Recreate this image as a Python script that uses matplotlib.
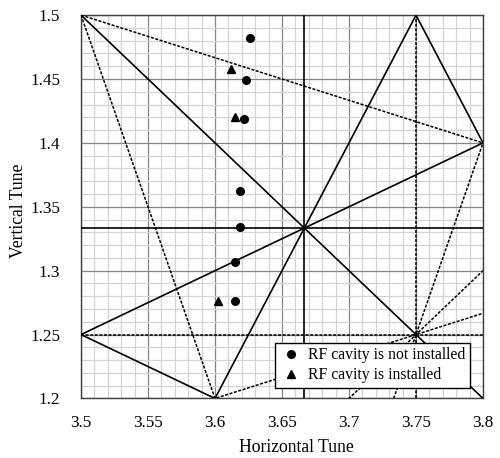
import matplotlib
matplotlib.use("Agg")
import matplotlib.pyplot as plt
import numpy as np

plt.rcParams['font.family'] = ['Liberation Serif', 'DejaVu Serif']

# Data: tune measurements
no_rf_x = [3.626, 3.623, 3.622, 3.619, 3.619, 3.615, 3.615]
no_rf_y = [1.482, 1.449, 1.419, 1.3625, 1.334, 1.3065, 1.276]
rf_x = [3.612, 3.615, 3.602]
rf_y = [1.458, 1.420, 1.276]

# Resonance lines a*nx + b*ny = c
solid_lines = [(1, 1, 5), (2, -1, 6), (2, 1, 9), (1, -2, 1), (1, 2, 6)]
dashed_lines = [(3, 1, 12), (1, 3, 8), (3, -1, 10), (1, -1, 2.5), (1, -3, 0)]
solid_vert = [11 / 3]
solid_horz = [4 / 3]
dashed_vert = [3.75]
dashed_horz = [1.25]

xticks = [3.5, 3.55, 3.6, 3.65, 3.7, 3.75, 3.8]
xticklabels = ["3.5", "3.55", "3.6", "3.65", "3.7", "3.75", "3.8"]
yticks = [1.2, 1.25, 1.3, 1.35, 1.4, 1.45, 1.5]
yticklabels = ["1.2", "1.25", "1.3", "1.35", "1.4", "1.45", "1.5"]

fig = plt.figure(figsize=(5.0, 4.58), dpi=100)
ax = fig.add_axes([0.162, 0.13, 0.804, 0.837])
ax.set_xlim(3.5, 3.8)
ax.set_ylim(1.2, 1.5)

ax.set_xticks(xticks)
ax.set_xticklabels(xticklabels)
ax.set_yticks(yticks)
ax.set_yticklabels(yticklabels)
ax.set_xticks(np.arange(3.5, 3.8001, 0.01), minor=True)
ax.set_yticks(np.arange(1.2, 1.5001, 0.01), minor=True)
ax.grid(which='minor', color='#d4d4d4', linewidth=0.9)
ax.grid(which='major', color='#868686', linewidth=0.9)
ax.set_axisbelow(True)
ax.tick_params(which='both', length=0)
ax.tick_params(axis='x', pad=12, labelsize=12.3)
ax.tick_params(axis='y', pad=15, labelsize=12.3)

xs = np.linspace(3.5, 3.8, 301)
for a, b, c in solid_lines:
    ax.plot(xs, (c - a * xs) / b, color='black', lw=1.2, zorder=3)
for a, b, c in dashed_lines:
    ax.plot(xs, (c - a * xs) / b, color='black', lw=1.1, dashes=(2, 1), zorder=3)
for v in solid_vert:
    ax.axvline(v, color='black', lw=1.2, zorder=3)
for v in solid_horz:
    ax.axhline(v, color='black', lw=1.2, zorder=3)
for v in dashed_vert:
    ax.axvline(v, color='black', lw=1.1, dashes=(2, 1), zorder=3)
for v in dashed_horz:
    ax.axhline(v, color='black', lw=1.1, dashes=(2, 1), zorder=3)

ax.plot(no_rf_x, no_rf_y, 'o', color='black', markersize=5.5, linestyle='none',
        label='RF cavity is not installed', zorder=5)
ax.plot(rf_x, rf_y, '^', color='black', markersize=6, linestyle='none',
        label='RF cavity is installed', zorder=5)

for s in ax.spines.values():
    s.set_color('#404040')
    s.set_linewidth(1.0)

leg = ax.legend(loc='lower right', bbox_to_anchor=(0.968, 0.027), borderaxespad=0,
                fontsize=11.3, frameon=True, fancybox=False, framealpha=1,
                edgecolor='black', handletextpad=0.4, handlelength=1.4,
                borderpad=0.3, labelspacing=0.25)
leg.get_frame().set_linewidth(1.0)
leg.set_zorder(10)

ax.set_xlabel('Horizontal Tune', fontsize=12.7)
ax.set_ylabel('Vertical Tune', fontsize=12.7)
ax.xaxis.set_label_coords(0.537, -0.105)
ax.yaxis.set_label_coords(-0.134, 0.49)

fig.savefig('out.png', dpi=100)
